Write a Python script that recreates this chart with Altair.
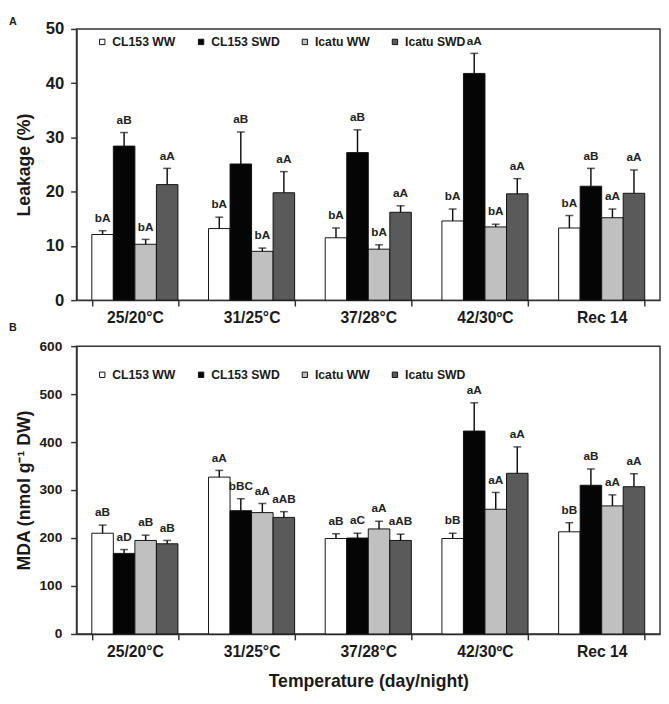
import altair as alt
import pandas as pd

cats = ["25/20°C", "31/25°C", "37/28°C", "42/30ºC", "Rec 14"]
series = ["CL153 WW", "CL153 SWD", "Icatu WW", "Icatu SWD"]
colors = ["#ffffff", "#050505", "#c0c0c0", "#5a5a5a"]

# Panel A: Leakage (%)
leak_mean = {
    "CL153 WW": [12.1, 13.2, 11.5, 14.6, 13.3],
    "CL153 SWD": [28.4, 25.1, 27.2, 41.8, 21.0],
    "Icatu WW": [10.3, 9.0, 9.4, 13.5, 15.2],
    "Icatu SWD": [21.3, 19.8, 16.2, 19.6, 19.7],
}
leak_se = {
    "CL153 WW": [0.7, 2.1, 1.8, 2.2, 2.3],
    "CL153 SWD": [2.5, 5.9, 4.2, 3.7, 3.3],
    "Icatu WW": [0.9, 0.6, 0.8, 0.5, 1.6],
    "Icatu SWD": [3.0, 3.9, 1.2, 2.8, 4.3],
}
leak_letters = {
    "CL153 WW": ["bA", "bA", "bA", "bA", "bA"],
    "CL153 SWD": ["aB", "aB", "aB", "aA", "aB"],
    "Icatu WW": ["bA", "bA", "bA", "bA", "aA"],
    "Icatu SWD": ["aA", "aA", "aA", "aA", "aA"],
}

# Panel B: MDA (nmol g-1 DW)
mda_mean = {
    "CL153 WW": [210, 327, 199, 199, 213],
    "CL153 SWD": [168, 257, 200, 423, 310],
    "Icatu WW": [195, 253, 219, 260, 267],
    "Icatu SWD": [188, 243, 195, 335, 307],
}
mda_se = {
    "CL153 WW": [17, 14, 10, 11, 19],
    "CL153 SWD": [8, 25, 10, 59, 34],
    "Icatu WW": [11, 19, 16, 35, 23],
    "Icatu SWD": [7, 12, 13, 55, 27],
}
mda_letters = {
    "CL153 WW": ["aB", "aA", "aB", "bB", "bB"],
    "CL153 SWD": ["aD", "bBC", "aC", "aA", "aB"],
    "Icatu WW": ["aB", "aA", "aA", "aA", "aA"],
    "Icatu SWD": ["aB", "aAB", "aAB", "aA", "aA"],
}

FONT = "Liberation Sans"
INK = "#1a1a1a"


def make_df(means, ses, letters):
    rows = []
    for s in series:
        for i, c in enumerate(cats):
            m = means[s][i]
            rows.append({"cat": c, "series": s, "mean": m,
                         "top": m + ses[s][i], "letter": letters[s][i]})
    return pd.DataFrame(rows)


def panel(df, ytitle, ymax, ystep, height, legend_y, show_xtitle,
          ylabel_size, ylabel_pad):
    xaxis = alt.Axis(
        title="Temperature (day/night)" if show_xtitle else None,
        labelAngle=0, tickBand="extent", tickSize=6, labelPadding=4,
        labelFontSize=16, labelFontWeight="bold", labelColor=INK,
        titleFontSize=18, titleFontWeight="bold", titleColor=INK,
        titlePadding=14, domainColor="#333", tickColor="#333",
        domainWidth=1.5, tickWidth=1.5,
    )
    yaxis = alt.Axis(
        title=ytitle,
        values=list(range(0, ymax + 1, ystep // 2)),
        labelExpr=f"datum.value % {ystep} == 0 ? datum.label : ''",
        tickSize=6, labelPadding=ylabel_pad, grid=False,
        labelFontSize=ylabel_size, labelFontWeight="bold", labelColor=INK,
        titleFontSize=18, titleFontWeight="bold", titleColor=INK,
        titlePadding=6, minExtent=38, maxExtent=38,
        domainColor="#333", tickColor="#333", domainWidth=1.5, tickWidth=1.5,
    )
    base = alt.Chart(df).encode(
        x=alt.X("cat:N", sort=cats, axis=xaxis,
                scale=alt.Scale(paddingInner=0.262, paddingOuter=0.131)),
        xOffset=alt.XOffset("series:N", sort=series,
                            scale=alt.Scale(paddingInner=0, paddingOuter=0)),
    )
    yscale = alt.Scale(domain=[0, ymax], nice=False)
    bars = base.mark_bar(stroke="#111", strokeWidth=1).encode(
        y=alt.Y("mean:Q", scale=yscale, axis=yaxis),
        color=alt.Color(
            "series:N", sort=series,
            scale=alt.Scale(domain=series, range=colors),
            legend=alt.Legend(
                title=None, orient="none", direction="horizontal", columns=4,
                legendX=20, legendY=legend_y, padding=0, gridAlign="none",
                symbolType="square", symbolSize=30, symbolStrokeColor="#111",
                symbolStrokeWidth=1, symbolOpacity=1,
                labelFontSize=12.5, labelFontWeight="bold", labelColor=INK,
                labelOffset=4, columnPadding=19,
            ),
        ),
    )
    rules = base.mark_rule(color="#111", strokeWidth=1.5).encode(
        y=alt.Y("mean:Q", scale=yscale), y2="top:Q")
    caps = base.mark_tick(color="#111", thickness=1.5, size=8).encode(
        y=alt.Y("top:Q", scale=yscale))
    texts = base.mark_text(baseline="bottom", dy=-6, fontSize=12,
                           fontWeight="bold", color="#222").encode(
        y=alt.Y("top:Q", scale=yscale), text="letter:N")
    return alt.layer(bars, rules, caps, texts).properties(width=596, height=height)


dfA = make_df(leak_mean, leak_se, leak_letters)
dfB = make_df(mda_mean, mda_se, mda_letters)

pA = panel(dfA, "Leakage (%)", 50, 10, 277, 7, False, 17, 7)
pB = panel(dfB, "MDA (nmol g⁻¹ DW)", 600, 100, 294, 23, True, 14, 9)

letterA = alt.Chart(pd.DataFrame({"t": ["A"]})).mark_text(
    align="left", baseline="top", fontSize=11, fontWeight="bold", color=INK
).encode(x=alt.value(-69), y=alt.value(-13), text="t:N")
letterB = alt.Chart(pd.DataFrame({"t": ["B"]})).mark_text(
    align="left", baseline="top", fontSize=11, fontWeight="bold", color=INK
).encode(x=alt.value(-69), y=alt.value(300), text="t:N")

pA = alt.layer(pA, letterA, letterB)

chart = alt.vconcat(pA, pB, spacing=4).resolve_scale(
    color="independent").resolve_legend(color="independent").properties(
    padding={"left": 0, "top": 0, "right": 0, "bottom": 0}
).configure(font=FONT).configure_view(stroke="#333", strokeWidth=1.5)

chart.save("out.html", embed_options={"renderer": "svg", "actions": False})
